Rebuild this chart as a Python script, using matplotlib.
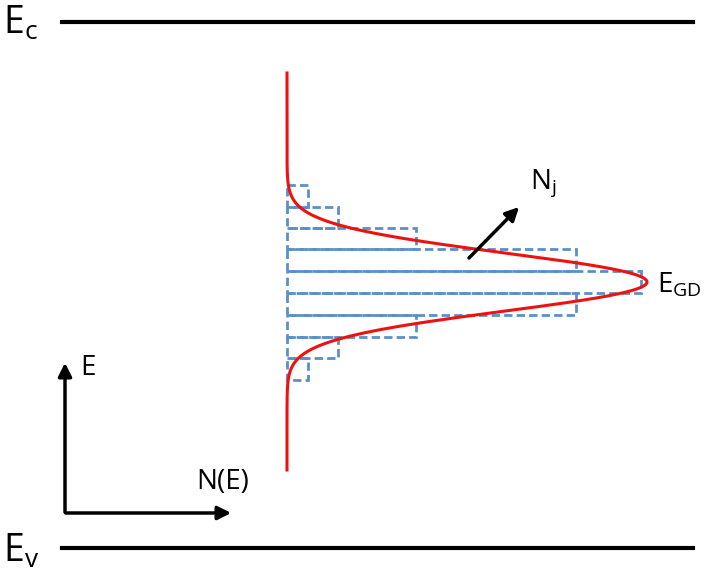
import numpy as np
import matplotlib.pyplot as plt
from matplotlib.patches import Rectangle

# schematic in pixel units (y downwards)
bin_edges = [185, 207, 228, 249, 271, 293, 315, 337, 358, 380]
bin_width = [21, 51, 129, 289, 354, 289, 129, 51, 21]
base_x = 287
peak_y = 282
peak_amp = 360
sigma = 29

fig = plt.figure(figsize=(7.14, 5.83), dpi=100)
ax = fig.add_axes([0, 0, 1, 1])
ax.set_xlim(0, 714)
ax.set_ylim(583, 0)
ax.axis('off')

blue = '#5b8fc7'
for i, w in enumerate(bin_width):
    y0 = bin_edges[i]
    h = bin_edges[i + 1] - y0
    ax.add_patch(Rectangle((base_x, y0), w, h, fill=False, ec=blue, lw=2, ls=(0, (3, 1.5))))

y = np.linspace(73, 470, 600)
ax.plot(base_x + peak_amp * np.exp(-(y - peak_y) ** 2 / (2 * sigma ** 2)), y, color='#ee1111', lw=2.2)

ax.plot([62, 693], [22, 22], color='black', lw=3)
ax.plot([62, 693], [548, 548], color='black', lw=3)
ax.text(3, 24, r'E$_\mathregular{c}$', fontsize=27, va='center', family='Open Sans')
ax.text(3, 552, r'E$_\mathregular{v}$', fontsize=27, va='center', family='Open Sans')

kw = dict(arrowstyle='-|>,head_length=0.8,head_width=0.4', color='black', lw=2.5)
ax.annotate('', xy=(65, 360), xytext=(65, 515), arrowprops=kw)
ax.annotate('', xy=(234, 513), xytext=(63, 513), arrowprops=kw)
ax.annotate('', xy=(521, 205), xytext=(467, 260), arrowprops=kw)

ax.text(80, 368, 'E', fontsize=20, va='center', family='Open Sans')
ax.text(196, 482, 'N(E)', fontsize=20, va='center', family='Open Sans')
ax.text(530, 183, r'N$_\mathregular{j}$', fontsize=20, va='center', family='Open Sans')
ax.text(657, 285, r'E$_\mathregular{GD}$', fontsize=20, va='center', family='Open Sans')

fig.savefig('out.png', dpi=100)
